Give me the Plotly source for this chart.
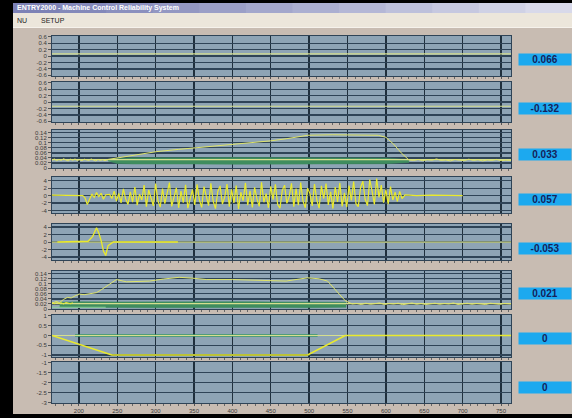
import plotly.graph_objects as go
from plotly.subplots import make_subplots

# ---------------- data ----------------
X_RANGE = [165, 763]
X_TICKS = [200, 250, 300, 350, 400, 450, 500, 550, 600, 650, 700, 750]

VALUES = [0.066, -0.132, 0.033, 0.057, -0.053, 0.021, 0, 0]
VALUE_LABELS = ["0.066", "-0.132", "0.033", "0.057", "-0.053", "0.021", "0", "0"]
VALUE_LINE_SHOWN = [True, True, True, False, True, True, True, True]

Y_TICKS = [
    [0.6, 0.4, 0.2, 0, -0.2, -0.4, -0.6],
    [0.6, 0.4, 0.2, 0, -0.2, -0.4, -0.6],
    [0.14, 0.12, 0.1, 0.08, 0.06, 0.04, 0.02, 0],
    [4, 2, 0, -2, -4],
    [4, 2, 0, -2, -4],
    [0.14, 0.12, 0.1, 0.08, 0.06, 0.04, 0.02, 0],
    [1, 0.5, 0, -0.5, -1],
    [-1, -1.5, -2, -2.5, -3],
]
Y_TICKTEXT = [
    ["0.6", "0.4", "0.2", "0", "-0.2", "-0.4", "-0.6"],
    ["0.6", "0.4", "0.2", "0", "-0.2", "-0.4", "-0.6"],
    ["0.14", "0.12", "0.1", "0.08", "0.06", "0.04", "0.02", "0"],
    ["4", "2", "0", "-2", "-4"],
    ["4", "2", "0", "-2", "-4"],
    ["0.14", "0.12", "0.1", "0.08", "0.06", "0.04", "0.02", "0"],
    ["1", "0.5", "0", "-0.5", "-1"],
    ["-1", "-1.5", "-2", "-2.5", "-3"],
]

# panel 3 : slow signal + band
P3_X = [165, 168, 171, 174, 177, 180, 183, 186, 189, 192, 195, 198, 201, 204, 207, 210,
        213, 216, 219, 222, 225, 228, 231, 234, 238, 260, 280, 301, 330, 357, 390, 427,
        450, 470, 485, 498, 530, 560, 590, 600, 610, 620, 630, 636, 642, 648, 654, 660,
        666, 672, 678, 684, 690, 696, 702, 708, 714, 720, 726, 732, 738, 744, 750, 756, 763]
P3_Y = [0.031, 0.036, 0.029, 0.034, 0.030, 0.037, 0.032, 0.028, 0.035, 0.031, 0.036, 0.030,
        0.033, 0.029, 0.035, 0.032, 0.030, 0.036, 0.031, 0.028, 0.034, 0.030, 0.033, 0.029,
        0.034, 0.045, 0.056, 0.065, 0.074, 0.082, 0.091, 0.100, 0.108, 0.116, 0.124, 0.130,
        0.132, 0.131, 0.130, 0.122, 0.095, 0.060, 0.032, 0.030, 0.034, 0.029, 0.033, 0.031,
        0.036, 0.030, 0.032, 0.028, 0.034, 0.031, 0.029, 0.035, 0.030, 0.033, 0.028, 0.032,
        0.030, 0.034, 0.029, 0.031, 0.030]
P3_BAND_X = [238, 250, 270, 300, 350, 400, 450, 500, 550, 600, 630]
P3_BAND_LO = [0.028, 0.018, 0.016, 0.015, 0.016, 0.015, 0.016, 0.015, 0.016, 0.017, 0.022]
P3_BAND_HI = [0.034, 0.038, 0.041, 0.040, 0.041, 0.042, 0.041, 0.042, 0.041, 0.040, 0.034]

# panel 4 : noisy signal
P4_PRE_X = [165, 180, 195, 205, 208, 211, 214, 217, 220, 223, 226, 229, 232, 235]
P4_PRE_Y = [0.1, 0.0, 0.1, 0.0, -0.6, -2.4, -1.0, 0.4, -0.5, 0.8, -0.3, 0.6, -1.0, 0.2]
P4_NOISE_X = list(range(240, 622, 3))
P4_NOISE_Y = [
    0.3, -0.8, 1.2, -1.5, 0.6, -2.0, 1.8, -0.9, -2.4, 1.0,
    -1.8, 2.3, -2.6, 0.4, -1.2, 2.8, -3.0, 1.5, -0.6, -2.8,
    3.2, -1.4, -3.1, 1.9, -2.2, 0.8, 3.5, -2.9, -0.5, 2.1,
    -3.3, 1.2, -1.9, 2.9, -3.4, -0.7, 1.6, -2.5, 3.0, -1.1,
    -3.2, 2.4, 0.2, -2.7, 3.3, -1.6, -3.5, 1.1, 2.6, -2.3,
    -0.4, 3.1, -3.0, 1.7, -2.0, 2.7, -3.6, 0.9, -1.4, 3.4,
    -2.6, 1.3, -3.2, 2.2, -0.9, -2.9, 3.6, -1.8, 0.5, -3.3,
    2.5, -1.1, 3.0, -2.4, -3.4, 1.4, 2.8, -2.1, -0.3, 3.3,
    -3.0, 1.9, -2.6, 3.5, -1.5, -3.3, 2.0, 0.6, -2.8, 3.1,
    -1.2, -3.4, 2.6, -0.8, 3.2, -2.5, 1.0, -3.5, 2.3, -1.7,
    3.4, -2.9, 0.7, -3.1, 2.7, -1.3, 3.8, -2.2, -3.0, 2.1,
    3.9, -1.0, -2.7, 4.3, 1.2, -2.4, 4.6, -0.5, 2.8, -1.9,
    1.6, -2.3, 2.4, -1.2, 0.9, -1.6, 1.1, -0.8,
]
P4_POST_X = [625, 640, 660, 680, 700]
P4_POST_Y = [0.2, 0.0, 0.1, 0.0, 0.0]

# panel 5 : single spike
P5_X = [172, 200, 212, 218, 223, 226, 229, 232, 235, 238, 245, 260, 300, 329]
P5_Y = [0, 0, 0.2, 1.5, 3.8, 2.4, 0.4, -2.4, -3.6, -1.0, 0, 0, 0, 0]

# panel 6 : slow signal + band
P6_X = [165, 170, 175, 180, 185, 190, 195, 201, 207, 213, 218, 223, 230, 240, 249, 262,
        275, 292, 310, 331, 350, 366, 400, 440, 470, 498, 513, 524, 530, 540, 547, 556,
        562, 568, 574, 580, 586, 592, 598, 604, 610, 616, 622, 628, 634, 640, 646, 652,
        658, 664, 670, 676, 682, 688, 694, 700, 706, 712, 718, 724, 730, 736, 742, 748,
        754, 763]
P6_Y = [0.023, 0.030, 0.026, 0.038, 0.046, 0.044, 0.052, 0.059, 0.057, 0.061, 0.063, 0.065,
        0.078, 0.098, 0.117, 0.108, 0.110, 0.111, 0.119, 0.126, 0.122, 0.117, 0.117, 0.114,
        0.111, 0.124, 0.120, 0.111, 0.091, 0.060, 0.033, 0.020,
        0.022, 0.018, 0.023, 0.019, 0.021, 0.024, 0.018, 0.022, 0.020, 0.023, 0.017, 0.021,
        0.024, 0.019, 0.022, 0.018, 0.021, 0.023, 0.019, 0.022, 0.020, 0.024, 0.018, 0.021,
        0.023, 0.019, 0.022, 0.020, 0.018, 0.023, 0.021, 0.019, 0.022, 0.020]
P6_START_X = [165, 168, 171, 174, 177, 180, 183, 186, 189, 192]
P6_START_Y = [0.026, 0.021, 0.027, 0.022, 0.025, 0.020, 0.026, 0.023, 0.021, 0.025]
P6_LIGHT_X = [165, 235]
P6_LIGHT_Y = [0.007, 0.007]
P6_BAND_X = [175, 200, 250, 300, 350, 400, 450, 500, 548]
P6_BAND_LO = [0.006, 0.005, 0.006, 0.005, 0.006, 0.005, 0.006, 0.005, 0.007]
P6_BAND_HI = [0.027, 0.029, 0.028, 0.029, 0.028, 0.029, 0.028, 0.029, 0.027]

# panel 7 : ramp profile + reference
P7_X = [165, 243, 498, 547, 763]
P7_Y = [0.0, -1.0, -1.0, 0.0, 0.0]
P7_REF_X = [195, 511]
P7_REF_Y = [0.0, 0.0]

TITLE = "ENTRY2000 - Machine Control Reliability System"
MENU = ["NU", "SETUP"]

# ---------------- layout / style ----------------
W, H = 572, 418
ML, MR, MT, MB = 52, 61, 36, 15
PW = W - ML - MR
PH = H - MT - MB


def px_x(px):
    return (px - ML) / PW


def px_y(py):
    return (H - MB - py) / PH


PANEL_TOP_PX = [36, 82, 130, 177, 224, 271, 315, 362]
PANEL_BOT_PX = [76, 122, 168, 213, 260, 309, 357, 403]
Y_RANGES = [[-0.62, 0.62], [-0.62, 0.62], [0, 0.151], [-4.7, 5.0], [-4.8, 4.8],
            [0, 0.151], [-1.1, 1.05], [-3.03, -0.97]]
BOX_CY_PX = [59, 108, 154, 199.5, 248.5, 293, 338.5, 387.5]

TAN = "#c8bcb2"
PLOT_BG = "#8ea4b5"
GRID = "#2f4457"
VGRID = "#1f2f3c"
YELLOW = "#eaea2c"
PALE = "#d6df8e"
BAND = "#3f8d5e"
CYAN = "#1ca9ef"
FONT = "Liberation Sans"

fig = make_subplots(rows=8, cols=1)


def line(x, y, row, color, width=1.0):
    fig.add_trace(go.Scatter(x=x, y=y, mode="lines", line=dict(color=color, width=width),
                             hoverinfo="skip", showlegend=False), row=row, col=1)


def band(x, lo, hi, row):
    fig.add_trace(go.Scatter(x=list(x) + list(x)[::-1], y=list(hi) + list(lo)[::-1],
                             mode="lines", fill="toself", fillcolor=BAND,
                             line=dict(color=BAND, width=0.5), hoverinfo="skip",
                             showlegend=False), row=row, col=1)


band(P3_BAND_X, P3_BAND_LO, P3_BAND_HI, 3)
band(P6_BAND_X, P6_BAND_LO, P6_BAND_HI, 6)
line(P6_LIGHT_X, P6_LIGHT_Y, 6, "#8fd39a", 1.2)
line(P7_REF_X, P7_REF_Y, 7, "#3c9a68", 2.5)

for i, (v, show) in enumerate(zip(VALUES, VALUE_LINE_SHOWN)):
    if show:
        line(X_RANGE, [v, v], i + 1, PALE, 1.2)

line(P3_X, P3_Y, 3, "#dfe46a", 1.0)
line(P4_PRE_X + P4_NOISE_X + P4_POST_X, P4_PRE_Y + P4_NOISE_Y + P4_POST_Y, 4, YELLOW, 1.2)
line(P5_X, P5_Y, 5, YELLOW, 1.3)
line(P6_START_X, P6_START_Y, 6, YELLOW, 1.0)
line(P6_X, P6_Y, 6, "#dfe46a", 1.0)
line(P7_X, P7_Y, 7, YELLOW, 1.6)

for i in range(8):
    n = "" if i == 0 else str(i + 1)
    last = i == 7
    fig.layout["xaxis" + n].update(
        domain=[0, 1], range=X_RANGE, tickvals=X_TICKS,
        ticktext=[str(t) for t in X_TICKS],
        showticklabels=last, showgrid=True, gridcolor=VGRID, gridwidth=1.4,
        zeroline=False, ticks="outside", ticklen=2, tickcolor="#555",
        minor=dict(ticks="outside", ticklen=2, dtick=10, tickcolor="#666", showgrid=False),
        showline=True, linecolor=GRID, linewidth=1, mirror=True, automargin=False,
        tickfont=dict(family=FONT, size=6, color="#3a3a3a"),
    )
    fig.layout["yaxis" + n].update(
        domain=[px_y(PANEL_BOT_PX[i]), px_y(PANEL_TOP_PX[i])],
        range=Y_RANGES[i], tickvals=Y_TICKS[i], ticktext=Y_TICKTEXT[i],
        showgrid=True, gridcolor=GRID, gridwidth=1.2, zeroline=False,
        ticks="outside", ticklen=3, tickcolor="#555", automargin=False,
        showline=True, linecolor=GRID, linewidth=1, mirror=True,
        tickfont=dict(family=FONT, size=6, color="#3a3a3a"),
    )

shapes = []


def rect(x0, y0, x1, y1, color):
    shapes.append(dict(type="rect", xref="paper", yref="paper",
                       x0=px_x(x0), x1=px_x(x1), y0=px_y(y1), y1=px_y(y0),
                       fillcolor=color, line=dict(width=0), layer="below"))


# window frame
rect(0, 0, W, 3, "#000000")
rect(0, 0, 13, H, "#000000")
rect(0, 414, W, H, "#000000")
# title bar gradient
grad = ["#7d82b6", "#8489ba", "#8b90be", "#9397c2", "#9b9fc7", "#a3a7cc",
        "#abafd1", "#b4b7d6", "#bdc0db", "#c6c8e0", "#cfd1e5", "#d8d9ea"]
seg = (W - 13) / len(grad)
for k, c in enumerate(grad):
    rect(13 + k * seg, 3, 13 + (k + 1) * seg + 1, 13, c)
# menu bar
rect(13, 13, W, 27, "#ece6db")
rect(13, 27, W, 28, "#f6f2ec")

annotations = [
    dict(text="<b>" + TITLE + "</b>", x=px_x(15), y=px_y(8), xref="paper", yref="paper",
         xanchor="left", yanchor="middle", showarrow=False,
         font=dict(family=FONT, size=7, color="#ffffff")),
    dict(text=MENU[0], x=px_x(15), y=px_y(20), xref="paper", yref="paper",
         xanchor="left", yanchor="middle", showarrow=False,
         font=dict(family=FONT, size=7, color="#222222")),
    dict(text=MENU[1], x=px_x(39), y=px_y(20), xref="paper", yref="paper",
         xanchor="left", yanchor="middle", showarrow=False,
         font=dict(family=FONT, size=7, color="#222222")),
]
for lab, cy in zip(VALUE_LABELS, BOX_CY_PX):
    annotations.append(dict(
        text="<b>" + lab + "</b>", x=px_x(544.5), y=px_y(cy), xref="paper", yref="paper",
        xanchor="center", yanchor="middle", showarrow=False, width=52, height=11,
        bgcolor=CYAN, borderpad=0, font=dict(family=FONT, size=10, color="#14215a")))

fig.update_layout(
    width=W, height=H, margin=dict(l=ML, r=MR, t=MT, b=MB, autoexpand=False),
    paper_bgcolor=TAN, plot_bgcolor=PLOT_BG, showlegend=False,
    shapes=shapes, annotations=annotations,
)

PAGE_JS = ("var s=document.createElement('style');"
           "s.textContent='html,body{margin:0;padding:0;overflow:hidden;background:#000000;}';"
           "document.head.appendChild(s);")

fig.write_html("out.html", config={"displayModeBar": False, "staticPlot": True},
               post_script=PAGE_JS)
